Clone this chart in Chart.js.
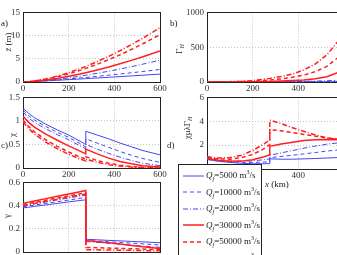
<!DOCTYPE html>
<html lang="en">
<head>
<meta charset="UTF-8">
<title>Qf panels</title>
<script src="https://cdn.jsdelivr.net/npm/chart.js"></script>
<style>
  html, body { margin:0; padding:0; overflow:hidden; background:#fff; }
  body { width:337px; height:255px; position:relative; font-family:'Liberation Serif','Times New Roman',serif; }
  canvas { position:absolute; }
  .lbl { position:absolute; font-size:9px; color:#222; white-space:nowrap; line-height:1; }
  .rot { transform:translate(-50%,-50%) rotate(-90deg); }
  #legend { position:absolute; left:178px; top:164px; width:82px; height:110px; border:1px solid #222; background:#fff; z-index:5; }
  #legend .row { position:absolute; left:0; font-size:9px; color:#222; white-space:nowrap; line-height:1; }
  sub, sup { font-size:6px; line-height:0; }
</style>
</head>
<body>
<div id="legend"></div>
<script>
// x positions along the river (km), the jump sits at 275 km
const xKm = [0, 25, 50, 100, 150, 200, 250, 275, 275, 325, 375, 425, 475, 525, 600];
const xTicks = [0, 200, 400, 600];
const flows = ['5000', '10000', '20000', '30000', '50000', '70000'];

// a) mean water level (m)
const zMean = [
  [0, 0.05, 0.11, 0.24, 0.37, 0.51, 0.65, 0.72, 0.72, 0.87, 1.01, 1.16, 1.32, 1.47, 1.70],
  [0, 0.04, 0.11, 0.26, 0.45, 0.65, 0.87, 0.98, 0.98, 1.22, 1.47, 1.73, 1.99, 2.27, 2.70],
  [0, 0.04, 0.11, 0.32, 0.59, 0.90, 1.26, 1.46, 1.46, 1.87, 2.32, 2.80, 3.31, 3.85, 4.70],
  [0, 0.05, 0.14, 0.42, 0.78, 1.22, 1.72, 2.00, 2.00, 2.59, 3.23, 3.93, 4.66, 5.45, 6.70],
  [0, 0.06, 0.19, 0.58, 1.11, 1.76, 2.51, 2.93, 2.93, 3.82, 4.81, 5.87, 7.02, 8.24, 10.2],
  [0, 0.07, 0.22, 0.67, 1.27, 2.02, 2.88, 3.36, 3.36, 4.39, 5.52, 6.74, 8.05, 9.45, 11.7]
];
const zTicks = [0, 5, 10, 15];

// b) Gamma_H
const gammaH = [
  [0, 0, 0, 0.1, 0.2, 0.3, 0.5, 0.6, 0.6, 0.8, 1, 1.3, 1.6, 2, 3],
  [0, 0, 0, 0.3, 0.5, 0.8, 1.2, 1.5, 1.5, 2.2, 3, 4, 5.5, 7, 10],
  [0, 0, 0, 0.5, 1, 1.5, 2.5, 3, 3, 4.5, 6.5, 9, 13, 18, 28],
  [0, 0, 0.5, 1, 2, 3, 6, 8, 8, 13, 20, 30, 48, 75, 170],
  [0, 0.5, 1, 3, 6, 10, 22, 28, 28, 45, 68, 100, 150, 225, 420],
  [0, 1, 2, 5, 10, 20, 40, 52, 52, 80, 115, 175, 260, 390, 690]
];
const gammaHTicks = [0, 500, 1000];

// c) chi
const chi = [
  [1.27, 1.16, 1.07, 0.93, 0.81, 0.70, 0.57, 0.50, 0.78, 0.70, 0.62, 0.53, 0.45, 0.37, 0.28],
  [1.23, 1.11, 1.02, 0.88, 0.76, 0.65, 0.52, 0.45, 0.62, 0.53, 0.44, 0.35, 0.27, 0.20, 0.12],
  [1.19, 1.06, 0.97, 0.83, 0.71, 0.60, 0.47, 0.41, 0.50, 0.40, 0.31, 0.23, 0.16, 0.10, 0.05],
  [1.10, 0.97, 0.87, 0.72, 0.59, 0.47, 0.36, 0.30, 0.40, 0.30, 0.21, 0.14, 0.09, 0.05, 0.02],
  [1.02, 0.88, 0.77, 0.60, 0.46, 0.34, 0.23, 0.19, 0.24, 0.16, 0.10, 0.06, 0.03, 0.01, 0.00],
  [0.98, 0.84, 0.72, 0.55, 0.41, 0.29, 0.19, 0.15, 0.19, 0.12, 0.07, 0.04, 0.02, 0.01, 0.00]
];
const chiTicks = [0, 0.5, 1, 1.5];

// d) chi*mu*lambda*Gamma_H
const chiMuLam = [
  [0.80, 0.72, 0.65, 0.55, 0.48, 0.44, 0.44, 0.45, 0.85, 0.82, 0.82, 0.85, 0.88, 0.92, 0.98],
  [0.82, 0.74, 0.68, 0.60, 0.56, 0.55, 0.58, 0.60, 0.95, 1.05, 1.15, 1.27, 1.38, 1.50, 1.65],
  [0.84, 0.77, 0.72, 0.66, 0.65, 0.68, 0.78, 0.85, 1.15, 1.35, 1.55, 1.75, 1.92, 2.08, 2.25],
  [0.92, 0.82, 0.74, 0.64, 0.66, 0.78, 1.02, 1.18, 1.90, 2.10, 2.25, 2.38, 2.45, 2.48, 2.45],
  [0.98, 0.90, 0.84, 0.82, 0.95, 1.22, 1.70, 2.05, 3.30, 3.20, 3.05, 2.90, 2.75, 2.60, 2.45],
  [1.04, 0.96, 0.92, 0.95, 1.15, 1.55, 2.10, 2.45, 4.10, 3.80, 3.45, 3.15, 2.85, 2.60, 2.40]
];
const chiMuLamTicks = [0, 2, 4, 6];

// e) gamma
const gam = [
  [0.38, 0.386, 0.393, 0.406, 0.419, 0.432, 0.444, 0.45, 0.11, 0.105, 0.10, 0.096, 0.091, 0.087, 0.08],
  [0.39, 0.397, 0.405, 0.419, 0.434, 0.448, 0.463, 0.47, 0.10, 0.094, 0.088, 0.082, 0.076, 0.070, 0.06],
  [0.40, 0.408, 0.416, 0.433, 0.449, 0.466, 0.482, 0.49, 0.09, 0.083, 0.075, 0.067, 0.059, 0.051, 0.04],
  [0.42, 0.430, 0.440, 0.460, 0.480, 0.500, 0.520, 0.53, 0.10, 0.089, 0.079, 0.068, 0.057, 0.046, 0.03],
  [0.41, 0.419, 0.428, 0.447, 0.465, 0.483, 0.501, 0.51, 0.04, 0.037, 0.034, 0.031, 0.028, 0.025, 0.02],
  [0.40, 0.409, 0.418, 0.436, 0.455, 0.473, 0.491, 0.50, 0.02, 0.019, 0.017, 0.016, 0.014, 0.012, 0.01]
];
const gamTicks = [0, 0.2, 0.4, 0.6];

// line styles (matlab look)
const lineColors = ['#4646f0', '#4646f0', '#4646f0', '#ff1f1f', '#ff1f1f', '#ff1f1f'];
const lineDash = [[], [4, 3], [5, 2, 1, 2], [], [4, 3], [5, 2, 1, 2]];
const lineWidth = [1, 1, 1, 1.5, 1.5, 1.5];

Chart.defaults.font.family = 'Liberation Serif';

// black box round the plot area
const frame = {
  id: 'frame',
  beforeDatasetsDraw(c) {
    const a = c.chartArea, ctx = c.ctx;
    ctx.save();
    ctx.strokeStyle = '#222';
    ctx.lineWidth = 1;
    ctx.strokeRect(Math.round(a.left) + 0.5, Math.round(a.top) + 0.5,
      Math.round(a.right - a.left), Math.round(a.bottom - a.top));
    ctx.restore();
  }
};

function panel(box, series, yTicks) {
  const yw = 26, pt = 8, pr = 14, xh = 14;
  const cv = document.createElement('canvas');
  cv.width = box.r - box.l + yw + pr;
  cv.height = box.b - box.t + pt + xh;
  cv.style.left = (box.l - yw) + 'px';
  cv.style.top = (box.t - pt) + 'px';
  document.body.appendChild(cv);

  const gridOpts = { color: '#c4c4c4', lineWidth: 1, drawTicks: false, borderDash: [1, 2] };
  const tickOpts = {
    color: '#333', font: { family: 'Liberation Serif', size: 9 },
    maxRotation: 0, autoSkip: false,
    callback: v => String(v)
  };

  return new Chart(cv, {
    type: 'line',
    data: {
      datasets: series.map((ys, i) => ({
        data: xKm.map((x, j) => ({ x: x, y: ys[j] })),
        borderColor: lineColors[i],
        borderWidth: lineWidth[i],
        borderDash: lineDash[i],
        pointRadius: 0,
        tension: 0,
        fill: false,
        order: 5 - i
      }))
    },
    options: {
      responsive: false,
      animation: false,
      layout: { padding: { top: pt, right: pr, left: 0, bottom: 0 } },
      plugins: { legend: { display: false }, tooltip: { enabled: false } },
      scales: {
        x: {
          type: 'linear', min: 0, max: 600,
          afterFit: s => { s.height = xh; },
          afterBuildTicks: s => { s.ticks = xTicks.map(v => ({ value: v })); },
          ticks: Object.assign({ padding: 1 }, tickOpts),
          grid: gridOpts,
          border: { display: false, dash: [1, 2] }
        },
        y: {
          min: yTicks[0], max: yTicks[yTicks.length - 1],
          afterFit: s => { s.width = yw; },
          afterBuildTicks: s => { s.ticks = yTicks.map(v => ({ value: v })); },
          ticks: Object.assign({ padding: 3 }, tickOpts),
          grid: gridOpts,
          border: { display: false, dash: [1, 2] }
        }
      }
    },
    plugins: [frame]
  });
}

panel({ l: 23, r: 160, t: 12, b: 82 }, zMean, zTicks);
panel({ l: 207, r: 344, t: 12, b: 82 }, gammaH, gammaHTicks);
panel({ l: 23, r: 160, t: 97, b: 168 }, chi, chiTicks);
panel({ l: 207, r: 344, t: 97, b: 169 }, chiMuLam, chiMuLamTicks);
panel({ l: 23, r: 160, t: 182, b: 252 }, gam, gamTicks);

// text labels
function label(html, x, y, rotate) {
  const d = document.createElement('div');
  d.className = 'lbl' + (rotate ? ' rot' : '');
  d.innerHTML = html;
  d.style.left = x + 'px';
  d.style.top = y + 'px';
  document.body.appendChild(d);
}
label('a)', 1, 19);
label('b)', 170, 19);
label('c)', 1, 141);
label('d)', 167, 141);
label('<i>z&#772;</i> (m)', 8, 42, true);
label('&Gamma;<sub><i>H</i></sub>', 179, 49, true);
label('&chi;', 12, 135, true);
label('&chi;&mu;&lambda;&Gamma;<sub><i>H</i></sub>', 187, 128, true);
label('&gamma;', 7, 216, true);
label('<i>x</i> (km)', 265, 180);

// legend
const lg = document.getElementById('legend');
flows.forEach((q, i) => {
  const cy = 11 + i * 16.5;
  const row = document.createElement('div');
  row.className = 'row';
  row.style.top = (cy - 5) + 'px';
  row.style.left = '4px';
  const dash = lineDash[i].length ? lineDash[i].join(',') : 'none';
  row.innerHTML =
    '<svg width="22" height="8" style="vertical-align:middle;margin-right:1px">' +
    '<line x1="0" y1="4" x2="21" y2="4" stroke="' + lineColors[i] + '" stroke-width="' + lineWidth[i] +
    '" stroke-dasharray="' + dash + '"/></svg>' +
    '<i>Q</i><sub><i>f</i></sub>=' + q + ' m<sup>3</sup>/s';
  lg.appendChild(row);
});
</script>
</body>
</html>
